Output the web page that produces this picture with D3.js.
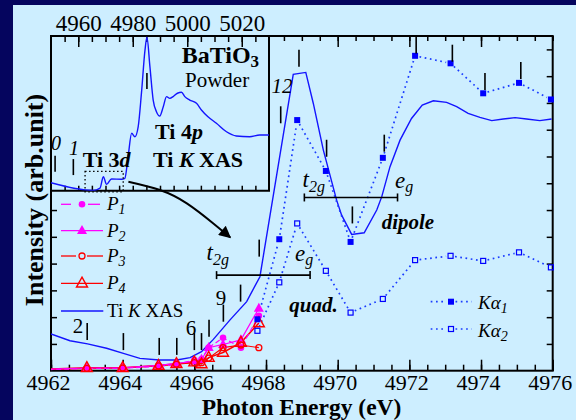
<!DOCTYPE html>
<html><head><meta charset="utf-8">
<script src="https://cdn.jsdelivr.net/npm/d3@7"></script>
<style>
html,body{margin:0;padding:0;background:#05055e;overflow:hidden;}
svg{display:block;}
text{font-family:"Liberation Serif","Times New Roman",serif;fill:#000;white-space:pre;}
</style></head><body>
<svg id="c" width="576" height="420"></svg>
<script>
// ---------------- DATA ----------------
// main-panel Ti K XAS [energy eV, intensity]
const xasMain = [[4962.0,1.37],[4962.53,1.12],[4963.02,1.00],[4963.55,0.84],[4964.02,0.65],[4964.48,0.46],
 [4965.02,0.40],[4965.51,0.40],[4965.88,0.49],[4966.20,0.71],[4966.53,1.17],[4966.99,1.89],[4967.46,2.58],
 [4967.83,3.51],[4968.76,11.07],[4969.11,11.14],[4969.32,9.98],[4969.60,8.24],[4969.97,6.37],[4970.11,5.81],
 [4970.39,5.09],[4970.74,5.15],[4971.09,6.00],[4971.23,6.50],[4971.46,7.62],[4971.74,8.61],[4972.06,9.42],
 [4972.36,9.92],[4972.67,10.08],[4973.04,10.02],[4973.32,9.86],[4973.64,9.61],[4973.97,9.46],[4974.30,9.34],
 [4974.62,9.40],[4974.95,9.45],[4975.27,9.40],[4975.64,9.34],[4975.97,9.40]];
// inset wide-range Ti K XAS [energy eV, intensity]
const xasInset = [[4950.0,0.52],[4965.4,0.02],[4968.0,0.17],[4969.2,0.90],[4970.4,0.41],[4972.2,0.76],
 [4975.9,0.74],[4977.1,0.80],[4978.3,2.20],[4979.6,3.71],[4980.8,3.49],[4982.0,4.14],[4983.2,6.32],
 [4984.5,9.10],[4985.2,9.92],[4986.3,8.02],[4987.5,5.86],[4988.7,5.11],[4989.9,4.83],[4991.2,5.43],
 [4992.4,6.08],[4993.6,5.97],[4994.8,6.08],[4996.4,6.30],[4997.9,6.36],[4999.1,6.08],[5000.9,5.86],
 [5003.4,5.65],[5005.2,5.22],[5007.6,4.78],[5010.7,4.36],[5014.4,3.81],[5018.0,3.54],[5022.9,3.49],
 [5026.6,3.60],[5030.0,3.60]];
// K-alpha series
const kaEnergy = [4967.76,4968.37,4968.87,4969.67,4970.36,4971.26,4972.16,4973.15,4974.06,4975.06,4975.95];
const kaAlpha1 = [1.92,4.91,9.36,7.46,4.81,7.95,11.76,11.48,10.36,10.75,10.13];
const kaAlpha2 = [1.49,3.30,5.50,3.73,2.17,2.68,4.13,4.29,4.10,4.42,3.86];
// pre-edge P series
const pEnergy = [4961.7,4963.0,4964.0,4965.0,4965.5,4966.0,4966.2,4966.4,4966.8,4967.3,4967.8];
const p1 = [0.03,0.08,0.09,0.16,0.23,0.40,0.43,0.86,1.23,0.86,2.05];
const p2 = [0.05,0.10,0.11,0.20,0.27,0.36,0.42,0.86,0.98,1.15,2.33];
const p3 = [0.04,0.09,0.10,0.18,0.24,0.30,0.30,0.47,0.86,0.96,0.86];
const p4 = [0.05,0.11,0.11,0.19,0.26,0.32,0.25,0.49,0.68,1.05,1.78];
// excitation-energy marker sticks (energy, lower end intensity)
const stickE = [4963.01,4964.02,4965.02,4965.51,4966.00,4966.20,4966.41,4966.81,4967.29,4967.81,4968.41,4968.92,4969.69,4970.41,4971.30,4972.19,4973.20,4974.11,4975.11];
const stickI = [1.15,0.77,0.59,0.59,0.77,0.77,1.27,1.83,2.58,4.26,9.24,11.35,7.99,5.50,8.18,11.85,11.54,10.48,10.89];
const insetStickE = [4951.5,4958.2,4985.2];
const insetStickI = [1.23,1.01,6.57];
// tick labels
const xTickLabels = [4962,4964,4966,4968,4970,4972,4974,4976];
const insetTickLabels = [4960,4980,5000,5020];
// crystal-field bars [start, end, level]
const barDipole = [4969.07,4971.67,6.47];
const barQuad = [4966.62,4969.23,3.57];

// ---------------- LAYOUT ----------------
const W=576,H=420;
const L=51,R=552.7,T=36,B=370.7,IR=269,IB=190.7;
const svg=d3.select("#c");
svg.append("rect").attr("width",W).attr("height",H).attr("fill","#05055e");
svg.append("rect").attr("x",13).attr("y",5).attr("width",W-13).attr("height",H-5).attr("fill","#cdeeff");

const x=d3.scaleLinear().domain([4962,4976]).range([L,R]);
const y=d3.scaleLinear().domain([0,12.5]).range([B,T]);
const xi=d3.scaleLinear().domain([4950,5030]).range([L,IR]);
const yi=d3.scaleLinear().domain([0,10]).range([IB,T]);

const defs=svg.append("defs");
defs.append("clipPath").attr("id","cm").append("rect").attr("x",L).attr("y",T).attr("width",R-L).attr("height",B-T);
defs.append("clipPath").attr("id","ci").append("rect").attr("x",L).attr("y",T).attr("width",IR-L).attr("height",IB-T);
defs.append("marker").attr("id","ah").attr("viewBox","0 0 10 10").attr("refX",9).attr("refY",5)
  .attr("markerWidth",16).attr("markerHeight",12).attr("markerUnits","userSpaceOnUse").attr("orient","auto")
  .append("path").attr("d","M0,0 L10,5 L0,10 Z").attr("fill","#000");

function styleAxis(g,w){g.select(".domain").remove();g.selectAll(".tick line").attr("stroke","#000").attr("stroke-width",w||1.5);}

// bottom axis
const half = d3.range(4962,4976.01,0.5);
svg.append("g").attr("transform",`translate(0,${B})`).call(d3.axisBottom(x).tickValues(half).tickSize(-6).tickFormat("")).call(styleAxis);
const gb=svg.append("g").attr("transform",`translate(0,${B})`).call(d3.axisBottom(x).tickValues(xTickLabels).tickSize(-11).tickFormat(d3.format("d"))).call(styleAxis);
gb.selectAll("text").attr("y",19).attr("dy",null).attr("x",-3).attr("font-size",22).attr("font-family","Liberation Serif, serif").attr("fill","#000");
// top axis (main part)
svg.append("g").attr("transform",`translate(0,${T})`).call(d3.axisTop(x).tickValues(half.filter(v=>v>4968.2)).tickSize(-5).tickFormat("")).call(styleAxis);
svg.append("g").attr("transform",`translate(0,${T})`).call(d3.axisTop(x).tickValues([4970,4972,4974]).tickSize(-11).tickFormat("")).call(styleAxis);
// left & right
svg.append("g").attr("transform",`translate(${L},0)`).call(d3.axisLeft(y).tickValues([1,2,3,4,5,6]).tickSize(-6).tickFormat("")).call(styleAxis);
svg.append("g").attr("transform",`translate(${R},0)`).call(d3.axisRight(y).tickValues(d3.range(1,13)).tickSize(-6).tickFormat("")).call(styleAxis);
// inset axes
const i5=d3.range(4955,5026,5);
svg.append("g").attr("transform",`translate(0,${T})`).call(d3.axisTop(xi).tickValues(i5).tickSize(-6).tickFormat("")).call(styleAxis);
const gi=svg.append("g").attr("transform",`translate(0,${T})`).call(d3.axisTop(xi).tickValues(insetTickLabels).tickSize(-11).tickFormat(d3.format("d"))).call(styleAxis);
gi.selectAll("text").attr("y",-5).attr("dy",null).attr("font-size",23).attr("font-family","Liberation Serif, serif").attr("fill","#000");
svg.append("g").attr("transform",`translate(0,${IB})`).call(d3.axisBottom(xi).tickValues(i5).tickSize(-5).tickFormat("")).call(styleAxis);

// frames
svg.append("rect").attr("x",L).attr("y",T).attr("width",R-L).attr("height",B-T).attr("fill","none").attr("stroke","#000").attr("stroke-width",2);
svg.append("path").attr("d",`M${L},${IB}H${IR}V${T}`).attr("fill","none").attr("stroke","#000").attr("stroke-width",2);

// ---------------- INSET ----------------
svg.append("path").datum(xasInset).attr("clip-path","url(#ci)")
  .attr("d",d3.line().x(d=>xi(d[0])).y(d=>yi(d[1])).curve(d3.curveMonotoneX))
  .attr("fill","none").attr("stroke","#1414ff").attr("stroke-width",1.4);
svg.append("g").selectAll("line").data(insetStickE).join("line")
  .attr("x1",(d)=>xi(d)).attr("x2",d=>xi(d))
  .attr("y1",(d,i)=>yi(insetStickI[i])).attr("y2",(d,i)=>yi(insetStickI[i])-16)
  .attr("stroke","#000").attr("stroke-width",1.6);
svg.append("rect").attr("x",xi(4962.5)).attr("y",yi(1.25)).attr("width",xi(4976.5)-xi(4962.5)).attr("height",yi(-0.07)-yi(1.25))
  .attr("fill","none").attr("stroke","#000").attr("stroke-width",1.3).attr("stroke-dasharray","1.5,2.5");

// ---------------- MAIN ----------------
const gm=svg.append("g").attr("clip-path","url(#cm)");
gm.append("path").datum(xasMain).attr("d",d3.line().x(d=>x(d[0])).y(d=>y(d[1])))
  .attr("fill","none").attr("stroke","#1414ff").attr("stroke-width",1.4);

function gapSegs(pts,g){const s=[];for(let i=0;i<pts.length-1;i++){const [x1,y1]=pts[i],[x2,y2]=pts[i+1];const dx=x2-x1,dy=y2-y1,d=Math.hypot(dx,dy);if(d<=2*g)continue;const ux=dx/d,uy=dy/d;s.push([x1+ux*g,y1+uy*g,x2-ux*g,y2-uy*g]);}return s;}
const dotStyle=sel=>sel.attr("stroke","#1a3cff").attr("stroke-width",1.7).attr("stroke-dasharray","1.7,3.6");
[kaAlpha1,kaAlpha2].forEach(ser=>{
  const pts=kaEnergy.map((e,i)=>[x(e),y(ser[i])]);
  gm.append("g").selectAll("line").data(gapSegs(pts,4.5)).join("line")
    .attr("x1",d=>d[0]).attr("y1",d=>d[1]).attr("x2",d=>d[2]).attr("y2",d=>d[3]).call(dotStyle);
});

// P series lines
const pSeries=[
 {v:p4,c:"#ff0000",w:1.5,dash:null,m:"triO"},
 {v:p3,c:"#ff0000",w:1.2,dash:null,m:"cirO"},
 {v:p2,c:"#ff00ff",w:1.2,dash:null,m:"triF"},
 {v:p1,c:"#ff00ff",w:1.2,dash:"5,3",m:"cirF"}];
pSeries.forEach(s=>{
  gm.append("path").datum(pEnergy.map((e,i)=>[e,s.v[i]]))
    .attr("d",d3.line().x(d=>x(d[0])).y(d=>y(d[1])))
    .attr("fill","none").attr("stroke",s.c).attr("stroke-width",s.w).attr("stroke-dasharray",s.dash);
});
function tri(sz){const h=sz*0.9;return `M0,${-h*0.62}L${sz/2},${h*0.38}L${-sz/2},${h*0.38}Z`;}
function drawMarker(g,type,cx,cy,color){
  if(type==="triO") g.append("path").attr("d",tri(11)).attr("transform",`translate(${cx},${cy})`).attr("fill","none").attr("stroke",color).attr("stroke-width",1.4);
  if(type==="triF") g.append("path").attr("d",tri(10)).attr("transform",`translate(${cx},${cy})`).attr("fill",color);
  if(type==="cirO") g.append("circle").attr("cx",cx).attr("cy",cy).attr("r",3).attr("fill","none").attr("stroke",color).attr("stroke-width",1.3);
  if(type==="cirF") g.append("circle").attr("cx",cx).attr("cy",cy).attr("r",3.3).attr("fill",color);
  if(type==="sqF") g.append("rect").attr("x",cx-3).attr("y",cy-3).attr("width",6).attr("height",6).attr("fill",color);
  if(type==="sqO") g.append("rect").attr("x",cx-2.5).attr("y",cy-2.5).attr("width",5).attr("height",5).attr("fill","none").attr("stroke",color).attr("stroke-width",1.2);
}
const gmk=svg.append("g");
pSeries.slice().reverse().forEach(s=>{
  pEnergy.forEach((e,i)=>{ if(e>=4962) drawMarker(gmk,s.m,x(e),y(s.v[i]),s.c); });
});
kaEnergy.forEach((e,i)=>{drawMarker(gmk,"sqF",x(e),y(kaAlpha1[i]),"#0000ff");drawMarker(gmk,"sqO",x(e),y(kaAlpha2[i]),"#0000ff");});

// marker sticks
svg.append("g").selectAll("line").data(stickE).join("line")
  .attr("x1",d=>x(d)).attr("x2",d=>x(d))
  .attr("y1",(d,i)=>y(stickI[i])).attr("y2",(d,i)=>y(stickI[i])-17)
  .attr("stroke","#000").attr("stroke-width",1.6);

// crystal-field bars
[barDipole,barQuad].forEach(b=>{
  const g=svg.append("g").attr("stroke","#000").attr("stroke-width",1.6);
  g.append("line").attr("x1",x(b[0])).attr("x2",x(b[1])).attr("y1",y(b[2])).attr("y2",y(b[2]));
  [b[0],b[1]].forEach(e=>g.append("line").attr("x1",x(e)).attr("x2",x(e)).attr("y1",y(b[2])-4).attr("y2",y(b[2])+4));
});

// arrow (in data coordinates)
const arrowPts=[[4964.16,7.06],[4965.04,6.75],[4965.79,6.25],[4966.53,5.50],[4967.0,4.98]];
svg.append("path").datum(arrowPts).attr("d",d3.line().x(d=>x(d[0])).y(d=>y(d[1])).curve(d3.curveNatural))
  .attr("fill","none").attr("stroke","#000").attr("stroke-width",2).attr("marker-end","url(#ah)");

// ---------------- TEXT ----------------
function rich(x0,y0,parts,base){
  const t=svg.append("text").attr("x",x0).attr("y",y0).attr("font-size",base.size)
    .attr("font-weight",base.weight||"normal").attr("font-style",base.style||"normal")
    .attr("text-anchor",base.anchor||"start");
  let shift=0;
  parts.forEach(p=>{
    const s=t.append("tspan").text(p.t);
    const tg=p.sub||0;
    if(tg!==shift){s.attr("dy",tg-shift);shift=tg;}
    if(p.size)s.attr("font-size",p.size);
    if(p.it!==undefined)s.attr("font-style",p.it?"italic":"normal");
  });
  return t;
}
rich(181.7,63.3,[{t:"BaTiO"},{t:"3",sub:4,size:17}],{size:24,weight:"bold"});
rich(185,86.7,[{t:"Powder"}],{size:21});
rich(155,138.5,[{t:"Ti 4"},{t:"p",it:true}],{size:22,weight:"bold"});
rich(153,166.7,[{t:"Ti "},{t:"K",it:true},{t:" XAS"}],{size:22,weight:"bold"});
rich(82.7,166.7,[{t:"Ti 3"},{t:"d",it:true}],{size:22,weight:"bold"});
rich(381.7,229,[{t:"dipole"}],{size:21,weight:"bold",style:"italic"});
rich(289.3,312,[{t:"quad."}],{size:21,weight:"bold",style:"italic"});
// band labels
rich(302.5,187,[{t:"t"},{t:"2g",sub:5,size:16}],{size:23,style:"italic"});
rich(395,188,[{t:"e"},{t:"g",sub:4,size:16}],{size:23,style:"italic"});
rich(206.5,260,[{t:"t"},{t:"2g",sub:5,size:16}],{size:23,style:"italic"});
rich(295,261,[{t:"e"},{t:"g",sub:4,size:16}],{size:23,style:"italic"});
// numbers
rich(78,333,[{t:"2"}],{size:21,anchor:"middle"});
rich(191,335,[{t:"6"}],{size:21,anchor:"middle"});
rich(221,305,[{t:"9"}],{size:21,anchor:"middle"});
rich(282,93,[{t:"12"}],{size:21,anchor:"middle",style:"italic"});
rich(56,150,[{t:"0"}],{size:20,anchor:"middle",style:"italic"});
rich(74,155,[{t:"1"}],{size:20,anchor:"middle",style:"italic"});
// axis titles
rich(301.5,415,[{t:"Photon Energy (eV)"}],{size:23.5,weight:"bold",anchor:"middle"});
svg.append("text").attr("transform","translate(43,200) rotate(-90)").attr("text-anchor","middle")
  .attr("font-size",26).attr("font-weight","bold").text("Intensity (arb.unit)");

// ---------------- LEGENDS ----------------
const legRows=[
 {y:204.3,c:"#ff00ff",m:"cirF",segs:[[61,71],[88,100]],lab:"1"},
 {y:230.7,c:"#ff00ff",m:"triF",segs:[[61,103]],lab:"2"},
 {y:256,c:"#ff0000",m:"cirO",segs:[[61,76],[87,103]],lab:"3"},
 {y:283.3,c:"#ff0000",m:"triO",segs:[[61,103]],lab:"4"}];
legRows.forEach(r=>{
  r.segs.forEach(s=>svg.append("line").attr("x1",s[0]).attr("x2",s[1]).attr("y1",r.y).attr("y2",r.y).attr("stroke",r.c).attr("stroke-width",1.3));
  drawMarker(svg,r.m,82,r.y,r.c);
  rich(107,r.y+6,[{t:"P",it:true},{t:r.lab,sub:4,size:14,it:true}],{size:19});
});
svg.append("line").attr("x1",61).attr("x2",103.3).attr("y1",311).attr("y2",311).attr("stroke","#1414ff").attr("stroke-width",1.4);
rich(107,316.7,[{t:"Ti "},{t:"K",it:true},{t:" XAS"}],{size:19});
[{y:301.7,m:"sqF",lab:"1"},{y:329,m:"sqO",lab:"2"}].forEach(r=>{
  [[430.7,446.5],[455.5,471.7]].forEach(s=>svg.append("line").attr("x1",s[0]).attr("x2",s[1]).attr("y1",r.y).attr("y2",r.y).call(dotStyle));
  drawMarker(svg,r.m,451,r.y,"#0000ff");
  rich(478,r.y+7.5,[{t:"Kα",it:true},{t:r.lab,sub:4,size:14,it:true}],{size:19});
});
</script></body></html>
